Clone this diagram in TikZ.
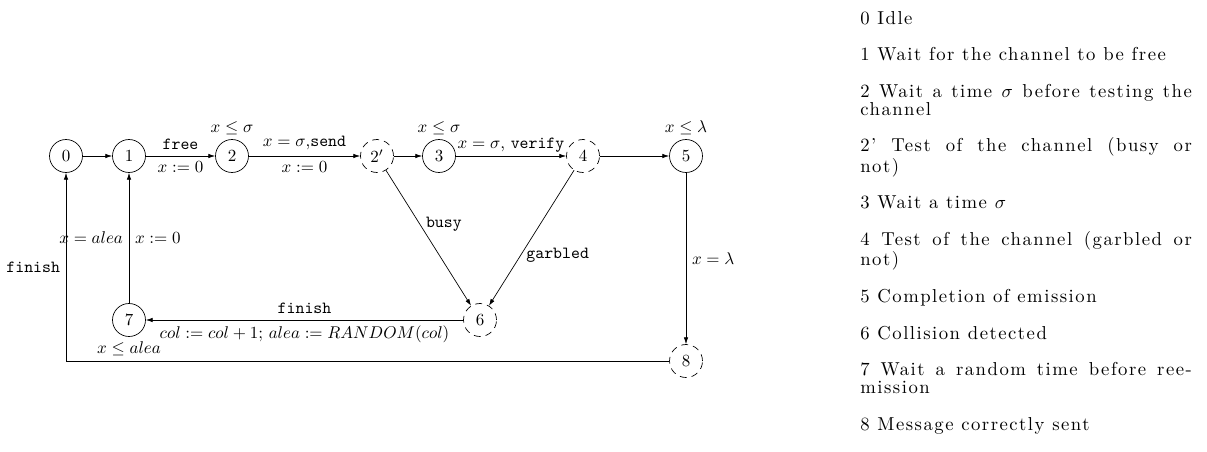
\documentclass[tikz,border=0pt]{standalone}
\usepackage{fontspec}
\usetikzlibrary{positioning,arrows.meta}
\newfontfamily\keyfont{lmroman10-regular.otf}[LetterSpace=8]

\tikzset{
  loc/.style={circle, draw, minimum size=19.4pt, inner sep=0pt},
  testloc/.style={loc, dash pattern=on 4pt off 3pt},
  inv/.style={inner sep=2.5pt},
  keytext/.style={anchor=north west, inner sep=0pt, text width=195pt, align=justify,
    font={\keyfont\fontsize{11}{10.6}\selectfont}}
}

\begin{document}
\begin{tikzpicture}[x=0.5882pt, y=-0.5882pt, >={Latex[length=4pt,width=2.6pt]}]
    \useasboundingbox (0,0) rectangle (1207,452);

    % locations
    \node[loc] (s0) at (66,156) {0};
    \node[loc] (s1) at (129,156) {1};
    \node[loc] (s2) at (232,156) {2};
    \node[testloc] (s2p) at (377,156) {$2'$};
    \node[loc] (s3) at (439,156) {3};
    \node[testloc] (s4) at (583,156) {4};
    \node[loc] (s5) at (686,156) {5};
    \node[testloc] (s6) at (480,320) {6};
    \node[loc] (s7) at (129,320) {7};
    \node[testloc] (s8) at (686,361) {8};

    % invariants
    \node[inv, above=0pt of s2] (inv2) {$x \leq \sigma$};
    \node[inv, above=0pt of s3] (inv3) {$x \leq \sigma$};
    \node[inv, above=0pt of s5] (inv5) {$x \leq \lambda$};
    \node[inv, below=0pt of s7] (inv7) {$x \leq alea$};

    % transitions
    \draw[->] (s0) -- (s1);
    \draw[->] (s1) -- node[above] {\texttt{free}} node[below] {$x:=0$} (s2);
    \draw[->] (s2) -- node[above] {$x=\sigma$,\texttt{send}} node[below] {$x:=0$} (s2p);
    \draw[->] (s2p) -- (s3);
    \draw[->] (s3) -- node[above, inner sep=2pt] {$x=\sigma$, \texttt{verify}} (s4);
    \draw[->] (s4) -- (s5);
    \draw[->] (s2p) -- node[right, pos=0.4] {\texttt{busy}} (s6);
    \draw[->] (s4) -- node[right, pos=0.63] {\texttt{garbled}} (s6);
    \draw[->] (s5) -- node[right] {$x=\lambda$} (s8);
    \draw[->] (s6) -- node[above] {\texttt{finish}}
        node[below] {$col:=col+1$; $alea:=RANDOM(col)$} (s7);
    \draw[->] (s7) -- node[left] {$x=alea$} node[right] {$x:=0$} (s1);
    \draw[->] (s8) -| node[pos=0.75, left] {\texttt{finish}} (s0);

    % key
    \node[keytext] (key) at (860,11) {%
        \setlength{\parskip}{10.9pt}%
        0 Idle\par
        1 Wait for the channel to be free\par
        2 Wait a time $\sigma$ before testing the\linebreak channel\par
        2’ Test of the channel (busy or\linebreak not)\par
        3 Wait a time $\sigma$\par
        4 Test of the channel (garbled or\linebreak not)\par
        5 Completion of emission\par
        6 Collision detected\par
        7 Wait a random time before ree-\linebreak mission\par
        8 Message correctly sent};
\end{tikzpicture}
\end{document}
